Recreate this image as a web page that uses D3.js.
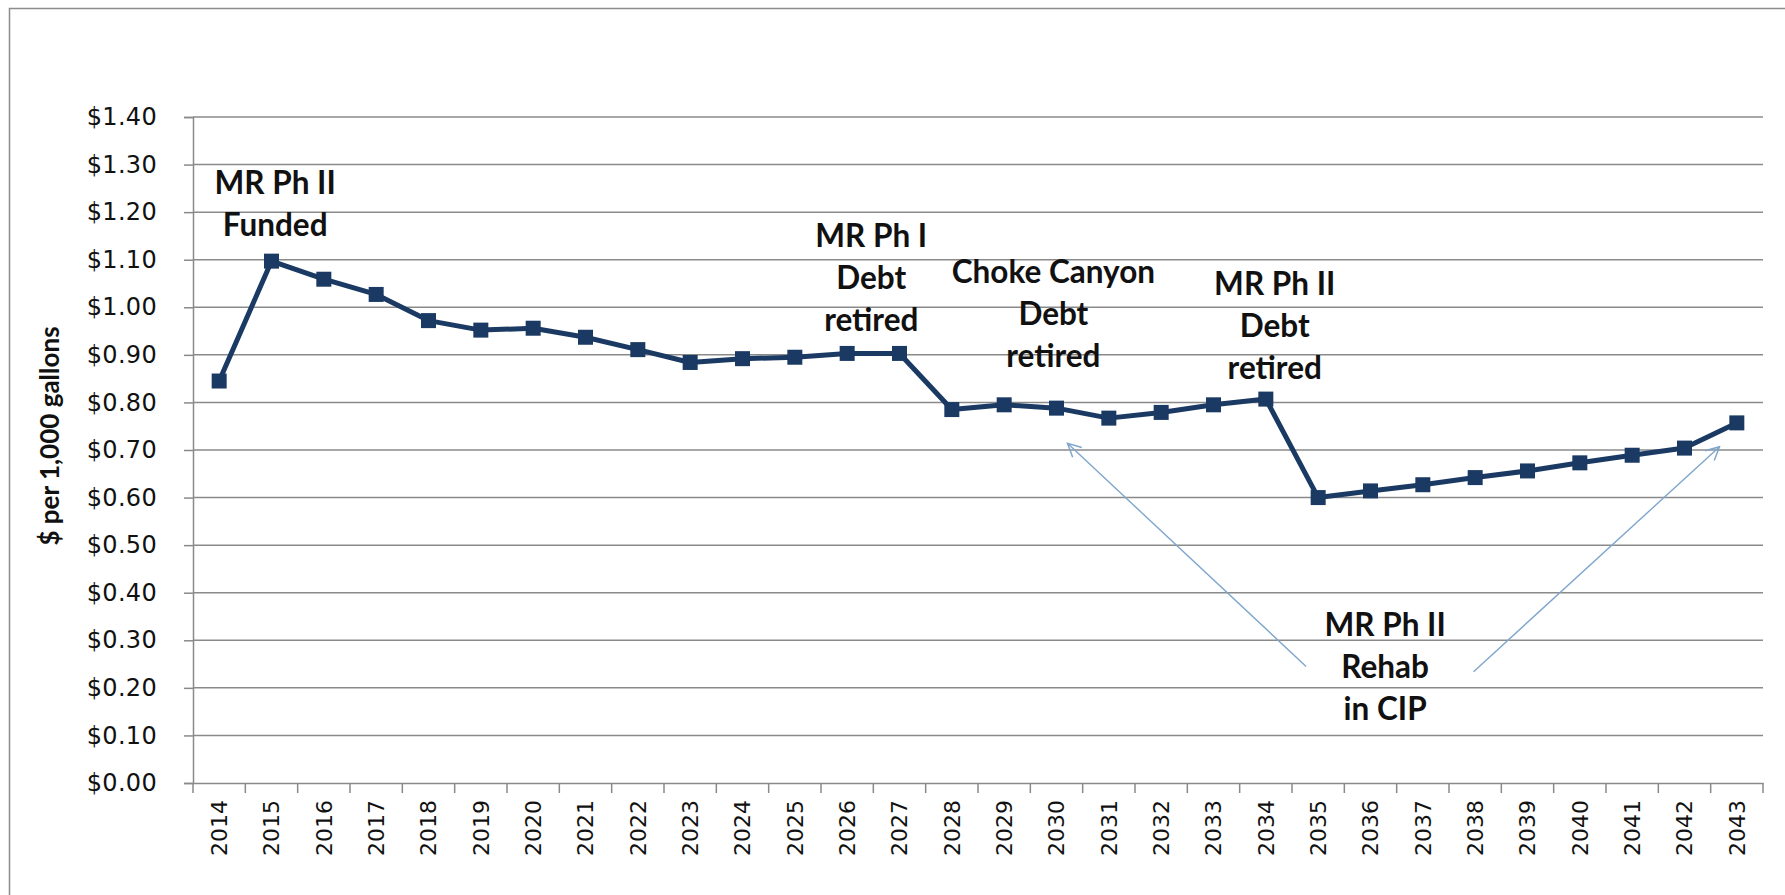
<!DOCTYPE html>
<html>
<head>
<meta charset="utf-8">
<script src="https://cdn.jsdelivr.net/npm/d3@7"></script>
<style>
  html, body { margin: 0; padding: 0; background: #fff; }
  svg { display: block; }
</style>
</head>
<body>
<script>
// ---- Data ----
const years = ["2014","2015","2016","2017","2018","2019","2020","2021","2022","2023",
               "2024","2025","2026","2027","2028","2029","2030","2031","2032","2033",
               "2034","2035","2036","2037","2038","2039","2040","2041","2042","2043"];
const rates = [0.845, 1.097, 1.059, 1.027, 0.972, 0.952, 0.956, 0.937, 0.911, 0.884,
               0.892, 0.895, 0.903, 0.903, 0.785, 0.795, 0.788, 0.767, 0.779, 0.795,
               0.807, 0.600, 0.614, 0.627, 0.642, 0.656, 0.673, 0.689, 0.704, 0.757];
const yTicks = [0, 0.1, 0.2, 0.3, 0.4, 0.5, 0.6, 0.7, 0.8, 0.9, 1.0, 1.1, 1.2, 1.3, 1.4];
const yTitle = "$ per 1,000 gallons";

// annotations: position in (category index, value) space
const notes = [
  { lines: ["MR Ph II", "Funded"], at: 1.57, v: 1.263 },
  { lines: ["MR Ph I", "Debt", "retired"], at: 12.96, v: 1.150 },
  { lines: ["Choke Canyon", "Debt", "retired"], at: 16.44, v: 1.075 },
  { lines: ["MR Ph II", "Debt", "retired"], at: 20.67, v: 1.050 },
  { lines: ["MR Ph II", "Rehab", "in CIP"], at: 22.78, v: 0.332 }
];
const arrows = [
  { from: [21.27, 0.245], to: [16.71, 0.714] },
  { from: [24.47, 0.234], to: [29.17, 0.707] }
];

// ---- Layout ----
const W = 1785, H = 895;
const mLeft = 193, mRight = 1763, mTop = 117, mBottom = 783;

const svg = d3.select("body").append("svg").attr("width", W).attr("height", H);
svg.append("rect").attr("width", W).attr("height", H).attr("fill", "#fff");
svg.append("rect").attr("x", 9.5).attr("y", 8.5).attr("width", W + 20).attr("height", H + 20)
  .attr("fill", "none").attr("stroke", "#8c8c8c").attr("stroke-width", 1.5);

const x = d3.scaleBand().domain(years).range([mLeft, mRight]).padding(0);
const xi = d3.scaleLinear().domain([0, years.length]).range([mLeft, mRight]);
const y = d3.scaleLinear().domain([0, 1.4]).range([mBottom, mTop]);

const gridColor = "#8a8a8a";

// gridlines
svg.append("g").selectAll("line").data(yTicks.filter(d => d > 0)).join("line")
  .attr("x1", mLeft).attr("x2", mRight)
  .attr("y1", d => y(d)).attr("y2", d => y(d))
  .attr("stroke", gridColor).attr("stroke-width", 1.5);

// y axis
const yAxis = svg.append("g").attr("transform", `translate(${mLeft},0)`)
  .call(d3.axisLeft(y).tickValues(yTicks).tickSize(9).tickPadding(27)
    .tickFormat(d => "$" + d3.format(".2f")(d)));
yAxis.selectAll("path, line").attr("stroke", gridColor).attr("stroke-width", 1.5);
yAxis.selectAll("text").attr("font-family", "DejaVu Sans").attr("font-size", 24)
  .attr("fill", "#111").attr("letter-spacing", 0.3);

// x axis
const xAxis = svg.append("g").attr("transform", `translate(0,${mBottom})`)
  .call(d3.axisBottom(x).tickSize(0).tickPadding(0));
xAxis.select("path").attr("stroke", gridColor).attr("stroke-width", 1.5);
xAxis.selectAll("text")
  .attr("font-family", "DejaVu Sans").attr("font-size", 22).attr("fill", "#111")
  .attr("text-anchor", "end")
  .attr("transform", "translate(0,17) rotate(-90)")
  .attr("dx", 0).attr("dy", "0.35em").attr("y", 0).attr("x", 0);
// tick marks at category boundaries
svg.append("g").selectAll("line").data(d3.range(years.length + 1)).join("line")
  .attr("x1", d => xi(d)).attr("x2", d => xi(d))
  .attr("y1", mBottom).attr("y2", mBottom + 10)
  .attr("stroke", gridColor).attr("stroke-width", 1.5);

// y title
svg.append("text")
  .attr("transform", `translate(50,${(mTop + mBottom) / 2 - 14}) rotate(-90)`)
  .attr("text-anchor", "middle").attr("dy", "0.35em")
  .attr("font-family", "Lato").attr("font-weight", "bold").attr("font-size", 26)
  .attr("fill", "#111").text(yTitle);

// line
const lineColor = "#1b3a63";
const cx = (d, i) => x(years[i]) + x.bandwidth() / 2;
svg.append("path").datum(rates)
  .attr("d", d3.line().x(cx).y(d => y(d)))
  .attr("fill", "none").attr("stroke", lineColor).attr("stroke-width", 5)
  .attr("stroke-linejoin", "round");
const ms = 15;
svg.append("g").selectAll("rect").data(rates).join("rect")
  .attr("x", (d, i) => cx(d, i) - ms / 2).attr("y", d => y(d) - ms / 2)
  .attr("width", ms).attr("height", ms).attr("fill", lineColor);

// arrows
const arrowColor = "#7ea6cc";
svg.append("defs").append("marker")
  .attr("id", "ah").attr("viewBox", "0 0 12 12").attr("refX", 11).attr("refY", 6)
  .attr("markerWidth", 16).attr("markerHeight", 16).attr("markerUnits", "userSpaceOnUse")
  .attr("orient", "auto")
  .append("path").attr("d", "M1,1 L11,6 L1,11").attr("fill", "none")
  .attr("stroke", arrowColor).attr("stroke-width", 1.1);
svg.append("g").selectAll("line").data(arrows).join("line")
  .attr("x1", d => xi(d.from[0])).attr("y1", d => y(d.from[1]))
  .attr("x2", d => xi(d.to[0])).attr("y2", d => y(d.to[1]))
  .attr("stroke", arrowColor).attr("stroke-width", 1.4)
  .attr("marker-end", "url(#ah)");

// annotation texts
const lineGap = 42;
const ng = svg.append("g").selectAll("text").data(notes).join("text")
  .attr("text-anchor", "middle")
  .attr("font-family", "Lato").attr("font-weight", "bold").attr("font-size", 31.5)
  .attr("fill", "#111");
ng.each(function(d) {
  const t = d3.select(this);
  d.lines.forEach((s, k) => {
    t.append("tspan").attr("x", xi(d.at)).attr("y", y(d.v) + k * lineGap)
      .attr("dy", "0.36em").text(s);
  });
});
</script>
</body>
</html>
